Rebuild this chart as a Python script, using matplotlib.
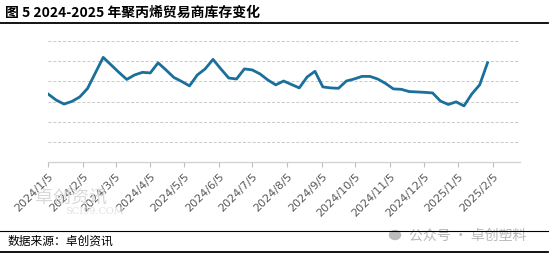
import matplotlib
matplotlib.use("Agg")
import matplotlib.pyplot as plt
import matplotlib.dates as mdates
import numpy as np
import datetime as dt
from matplotlib.lines import Line2D

plt.rcParams['font.family'] = ['Noto Sans CJK SC', 'DejaVu Sans']

# weekly inventory index (relative units)
start_date = dt.date(2024, 1, 5)
values = [3.37, 3.08, 2.88, 3.01, 3.23, 3.65, 4.42, 5.19, 4.82, 4.45,
          4.10, 4.32, 4.45, 4.42, 4.92, 4.57, 4.20, 4.00, 3.78, 4.32,
          4.62, 5.09, 4.62, 4.17, 4.12, 4.62, 4.57, 4.37, 4.07, 3.83,
          4.02, 3.85, 3.68, 4.22, 4.50, 3.73, 3.68, 3.66, 4.02, 4.12,
          4.25, 4.25, 4.12, 3.90, 3.63, 3.61, 3.50, 3.48, 3.46, 3.43,
          3.03, 2.86, 2.99, 2.79, 3.38, 3.83, 4.92]
dates = [start_date + dt.timedelta(weeks=i) for i in range(len(values))]

tick_dates = [dt.date(2024, m, 5) for m in range(1, 13)] + [dt.date(2025, 1, 5), dt.date(2025, 2, 5)]
tick_labels = [f"{d.year}/{d.month}/{d.day}" for d in tick_dates]

title = "图 5 2024-2025 年聚丙烯贸易商库存变化"
source = "数据来源：卓创资讯"

fig = plt.figure(figsize=(5.5, 2.56), dpi=100)
ax = fig.add_axes([48.3/550, 1-162.3/256, (520-48.3)/550, (162.3-41)/256])

ax.plot(dates, values, color='#1a6f9b', lw=2.0, solid_joinstyle='round', zorder=3)
ax.set_xlim(dt.date(2024, 1, 5), dt.date(2025, 3, 1))
ax.set_ylim(0, 6)
ax.set_yticks(np.arange(0, 7, 1))
ax.yaxis.grid(True, ls=(0, (3, 2)), color='#c8c8c8', lw=0.7)
ax.tick_params(axis='y', left=False, labelleft=False)
ax.set_xticks(tick_dates)
ax.set_xticklabels(tick_labels, rotation=45, ha='right', rotation_mode='anchor',
                   fontsize=8, color='#595959', family=['DejaVu Sans'])
ax.tick_params(axis='x', length=3.5, color='#bfbfbf', width=0.8, pad=3)
for s in ['top', 'right', 'left']:
    ax.spines[s].set_visible(False)
ax.spines['bottom'].set_color('#d0d0d0')
ax.spines['bottom'].set_linewidth(0.9)

# watermarks
fig.text(35/550, 1-198/256, "卓创资讯", fontsize=13, color='#d9d9d9', va='center', ha='left', zorder=0)
fig.text(65/550, 1-211/256, "SCI99.COM", fontsize=7, color='#e0e0e0', va='center', ha='left',
         family=['DejaVu Serif'], zorder=0)
fig.text(409/550, 1-236/256, "公众号 · 卓创塑料", fontsize=10, color='#b8b8b8', va='center', ha='left', zorder=1)
fig.patches.append(matplotlib.patches.Ellipse((395/550, 1-235/256), 11/550, 9/256,
                                              transform=fig.transFigure, color='#bcbcbc', zorder=1))

# title and rules
fig.text(5/550, 1-13/256, title, fontsize=10, fontweight='bold', va='center', ha='left')
fig.add_artist(Line2D([0, 548/550], [1-22.5/256, 1-22.5/256], color='black', lw=1.3, zorder=5))
fig.add_artist(Line2D([0, 548/550], [1-231/256, 1-231/256], color='black', lw=0.8, zorder=5))
fig.add_artist(Line2D([0, 548/550], [1-251.5/256, 1-251.5/256], color='black', lw=1.3, zorder=5))
fig.text(8/550, 1-241.5/256, source, fontsize=8.5, va='center', ha='left')

fig.savefig("out.png", dpi=100)
